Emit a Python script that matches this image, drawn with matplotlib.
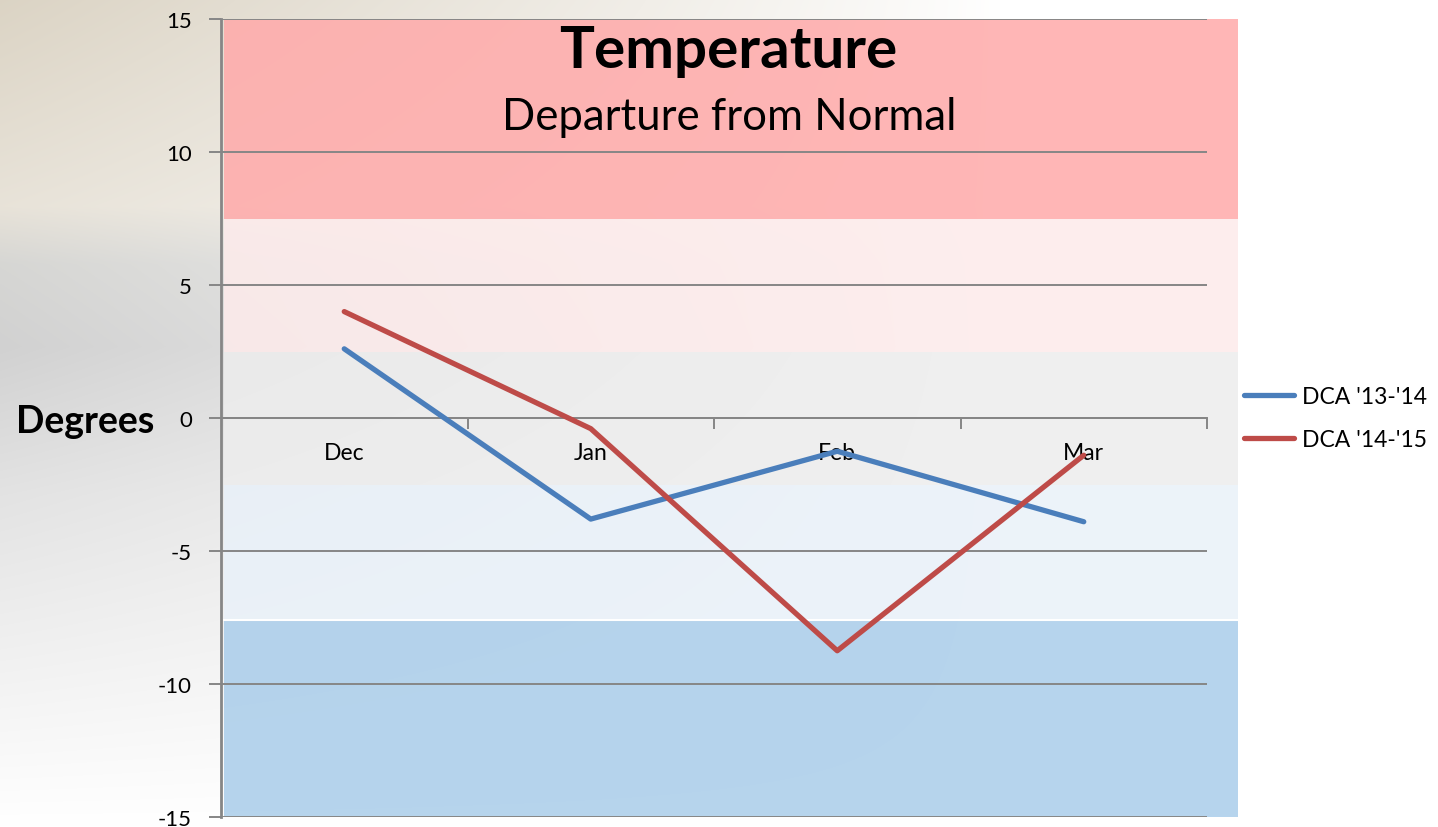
import numpy as np
import matplotlib
matplotlib.use("Agg")
import matplotlib.pyplot as plt

# Data
months = ["Dec", "Jan", "Feb", "Mar"]
dca_13_14 = [2.6, -3.8, -1.25, -3.9]
dca_14_15 = [4.0, -0.4, -8.75, -1.4]
series_names = ["DCA '13-'14", "DCA '14-'15"]
y_ticks = [-15, -10, -5, 0, 5, 10, 15]

# Colour bands (edges from top down)
band_edges = [15, 7.5, 2.5, -2.5, -7.6, -15]
band_colors = ["#FFAAAA", "#FDEBEB", "#EDEDED", "#E9F1F9", "#AACDEA"]

plt.rcParams["font.family"] = ["Lato", "DejaVu Sans"]

fig = plt.figure(figsize=(14.38, 8.28), dpi=100)
W, H = 1438, 828

# Soft photo-like background on the left, fading to white
bg = fig.add_axes([0, 0, 1, 1], zorder=-5)
yy = np.linspace(0, 1, H)
xx = np.linspace(0, W, W)[None, :]
stops_t = [0.0, 0.25, 0.32, 0.42, 0.6, 1.0]
stops_c = np.array([[0.86, 0.83, 0.77],
                    [0.91, 0.89, 0.85],
                    [0.84, 0.84, 0.83],
                    [0.82, 0.82, 0.82],
                    [0.89, 0.89, 0.89],
                    [1.0, 1.0, 1.0]])
col = np.stack([np.interp(yy, stops_t, stops_c[:, k]) for k in range(3)], axis=1)
w = np.clip(1 - xx / 1000.0, 0, 1) ** 0.9
img = col[:, None, :] * w[..., None] + (1 - w[..., None])
bg.imshow(img, aspect="auto", extent=[0, 1, 0, 1])
bg.axis("off")

ax = fig.add_axes([221 / W, 10 / H, 986 / W, 798 / H])
ax.set_facecolor("none")

x = np.arange(len(months)) + 0.5

# Bands
for i, c in enumerate(band_colors):
    p = ax.axhspan(band_edges[i + 1], band_edges[i], xmin=0.003, xmax=1.031,
                   color=c, alpha=0.86, lw=0, zorder=0.1)
    p.set_clip_on(False)
ax.axhline(-7.6, xmin=0.003, xmax=1.031, color="white", lw=1.5, zorder=0.2, clip_on=False)

# Gridlines
for t in y_ticks:
    ax.axhline(t, color="#868686", lw=1.4, zorder=0.5)

ax.plot(x, dca_13_14, color="#4A7EBB", lw=3.8, label=series_names[0],
        solid_capstyle="round", zorder=3)
ax.plot(x, dca_14_15, color="#BE4B48", lw=3.8, label=series_names[1],
        solid_capstyle="round", zorder=3)

ax.set_xlim(0, 4)
ax.set_ylim(-15, 15)
ax.set_yticks(y_ticks)
ax.set_yticklabels([str(t) for t in y_ticks], fontsize=16)
ax.tick_params(axis="y", length=9, color="#868686", width=1.4, pad=12)

ax.spines["bottom"].set_position(("data", 0))
ax.spines["bottom"].set_color("#868686")
ax.spines["bottom"].set_linewidth(1.4)
ax.spines["left"].set_color("#868686")
ax.spines["left"].set_linewidth(2)
ax.spines["top"].set_visible(False)
ax.spines["right"].set_visible(False)

ax.set_xticks([1, 2, 3, 4])
ax.set_xticklabels([])
ax.tick_params(axis="x", which="major", length=8, color="#868686", width=1.4, direction="out")
ax.set_xticks(x, minor=True)
ax.set_xticklabels(months, minor=True, fontsize=16.5)
ax.tick_params(axis="x", which="minor", length=0, pad=17)

fig.text(728 / W, 1 - 52 / H, "Temperature", fontsize=42, fontweight="bold",
         ha="center", va="center")
fig.text(729 / W, 1 - 117 / H, "Departure from Normal", fontsize=31.5,
         ha="center", va="center")
fig.text(85 / W, 1 - 422 / H, "Degrees", fontsize=27, fontweight="bold",
         ha="center", va="center")

ax.legend(loc="center left", bbox_to_anchor=(1.028, 0.5), frameon=False,
          fontsize=16.5, handlelength=2.2, handletextpad=0.35, labelspacing=0.95,
          borderaxespad=0)

fig.savefig("out.png", dpi=100)
